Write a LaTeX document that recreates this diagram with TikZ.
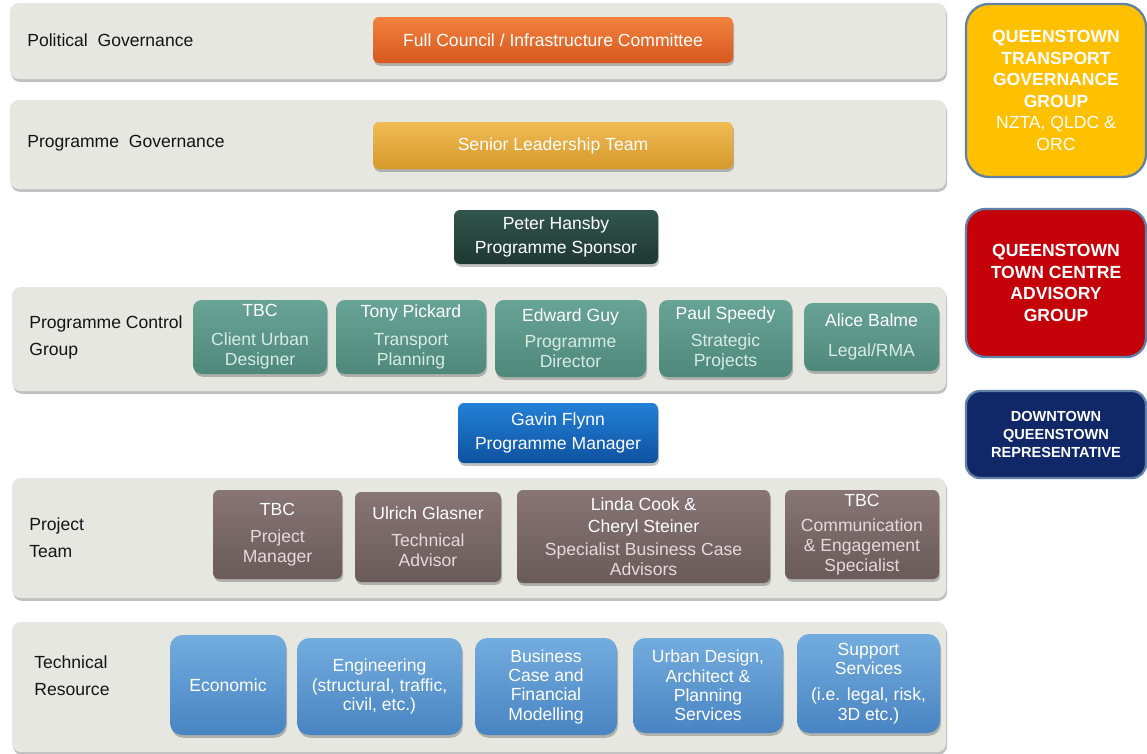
\documentclass[tikz,border=0pt]{standalone}
\usepackage{fontspec}
\setmainfont{Liberation Sans}
\usetikzlibrary{shadows}
\definecolor{bandc}{RGB}{231,231,225}
\definecolor{orangeT}{RGB}{242,130,62}
\definecolor{orangeB}{RGB}{214,88,30}
\definecolor{goldT}{RGB}{240,188,84}
\definecolor{goldB}{RGB}{214,152,42}
\definecolor{dgreenT}{RGB}{50,86,76}
\definecolor{dgreenB}{RGB}{30,56,48}
\definecolor{tealT}{RGB}{104,164,150}
\definecolor{tealB}{RGB}{78,136,122}
\definecolor{tealsub}{RGB}{215,235,228}
\definecolor{blueT}{RGB}{35,128,215}
\definecolor{blueB}{RGB}{14,82,160}
\definecolor{brownT}{RGB}{136,117,117}
\definecolor{brownB}{RGB}{106,90,90}
\definecolor{brownsub}{RGB}{228,218,218}
\definecolor{lblueT}{RGB}{115,172,222}
\definecolor{lblueB}{RGB}{72,132,194}
\definecolor{qyellow}{RGB}{255,192,0}
\definecolor{qred}{RGB}{196,0,8}
\definecolor{qnavy}{RGB}{16,40,104}
\definecolor{qborder}{RGB}{96,128,168}
\definecolor{labelc}{RGB}{20,20,20}
\newcommand\bx[7]{%
 \pgfmathsetmacro\cx{(#3+#5)/2}\pgfmathsetmacro\cy{(#4+#6)/2}%
 \pgfmathsetmacro\ww{(#5-#3)*0.02}\pgfmathsetmacro\hh{(#6-#4)*0.02}%
 \node[#2, minimum width=\ww cm, minimum height=\hh cm, inner sep=0pt] (#1) at (\cx,\cy) {#7};}
\tikzset{
  shd/.style={drop shadow={shadow xshift=0.6pt, shadow yshift=-1.6pt, opacity=0.35, fill=black!70}},
  band/.style={fill=bandc, rounded corners=5pt, shd},
  lbl/.style={anchor=west, text=labelc, font=\fontsize{10}{15.3}\selectfont, align=left, inner sep=0pt},
  cbox/.style={rounded corners=3.5pt, shd, text=white, align=center, font=\fontsize{10}{11.4}\selectfont},
  orangebox/.style={cbox, top color=orangeT, bottom color=orangeB},
  goldbox/.style={cbox, top color=goldT, bottom color=goldB},
  dgreenbox/.style={cbox, top color=dgreenT, bottom color=dgreenB},
  tealbox/.style={cbox, top color=tealT, bottom color=tealB, rounded corners=5pt},
  bluebox/.style={cbox, top color=blueT, bottom color=blueB},
  brownbox/.style={cbox, top color=brownT, bottom color=brownB},
  lbluebox/.style={cbox, top color=lblueT, bottom color=lblueB, rounded corners=7pt, font=\fontsize{10}{11}\selectfont},
  sidebox/.style={draw=qborder, line width=1.3pt, rounded corners=11pt, text=white, align=center, font=\bfseries\fontsize{10}{12.2}\selectfont},
}
\begin{document}
\begin{tikzpicture}[x=0.02cm, y=-0.02cm]
\useasboundingbox (0,0) rectangle (1147,754);
% bands
\bx{b1}{band}{10}{3}{946}{79}{}
\bx{b2}{band}{10}{100}{946}{189}{}
\bx{b3}{band}{12}{287}{946}{391}{}
\bx{b4}{band}{12}{478}{946}{598}{}
\bx{b5}{band}{12}{622}{946}{752}{}
% band labels
\node[lbl] (l1) at (27,40) {Political\ \ Governance};
\node[lbl] (l2) at (27,143) {Programme\ \ Governance};
\node[lbl] (l3) at (29,337.5) {Programme Control\\Group};
\node[lbl] (l4) at (29,537.5) {Project\\Team};
\node[lbl] (l5) at (34,675.5) {Technical\\Resource};
% governance
\bx{fc}{orangebox}{373}{17}{733}{63}{Full Council / Infrastructure Committee}
\bx{slt}{goldbox}{373}{122}{733}{169}{Senior Leadership Team}
\bx{ph}{dgreenbox}{454}{210}{658}{264}{Peter Hansby\\[2pt]Programme Sponsor}
% programme control group
\bx{pc1}{tealbox}{193}{300}{327}{374}{TBC\\[5pt]{\color{tealsub}Client Urban}\\{\color{tealsub}Designer}}
\bx{pc2}{tealbox}{336}{300}{486}{374}{Tony Pickard\\[5pt]{\color{tealsub}Transport}\\{\color{tealsub}Planning}}
\bx{pc3}{tealbox}{495}{300}{646}{377}{Edward Guy\\[3.5pt]{\color{tealsub}Programme}\\{\color{tealsub}Director}}
\bx{pc4}{tealbox}{659}{300}{792}{377}{Paul Speedy\\[3.5pt]{\color{tealsub}Strategic}\\{\color{tealsub}Projects}}
\bx{pc5}{tealbox}{804}{303}{939}{371}{Alice Balme\\[6pt]{\color{tealsub}Legal/RMA}}
\bx{gf}{bluebox}{458}{403}{658}{463}{Gavin Flynn\\[2pt]Programme Manager}
% project team
\bx{pt1}{brownbox}{213}{490}{342}{579}{TBC\\[4pt]{\color{brownsub}Project}\\{\color{brownsub}Manager}}
\bx{pt2}{brownbox}{355}{492}{501}{582}{Ulrich Glasner\\[4pt]{\color{brownsub}Technical}\\{\color{brownsub}Advisor}}
\bx{pt3}{brownbox}{517}{490}{770}{583}{Linda Cook \&\\[1.5pt]Cheryl Steiner\\[1.5pt]{\color{brownsub}Specialist Business Case}\\{\color{brownsub}Advisors}}
\bx{pt4}{brownbox}{785}{490}{939}{579}{TBC\\[3pt]{\color{brownsub}Communication}\\{\color{brownsub}\& Engagement}\\{\color{brownsub}Specialist}}
% technical resource
\bx{tr1}{lbluebox}{170}{635}{286}{735}{Economic}
\bx{tr2}{lbluebox}{297}{638}{462}{735}{Engineering\\(structural, traffic,\\civil, etc.)}
\bx{tr3}{lbluebox}{475}{638}{617}{735}{Business\\Case and\\Financial\\Modelling}
\bx{tr4}{lbluebox}{633}{638}{783}{733}{Urban Design,\\Architect \&\\Planning\\Services}
\bx{tr5}{lbluebox}{797}{634}{940}{733}{Support\\Services\\[4pt](i.e. legal, risk,\\3D etc.)}
% side boxes
\bx{qt}{sidebox, fill=qyellow, rounded corners=13pt}{966}{4}{1146}{177}{QUEENSTOWN\\TRANSPORT\\GOVERNANCE\\GROUP\\{\mdseries NZTA, QLDC \&}\\{\mdseries ORC}}
\bx{qa}{sidebox, fill=qred}{966}{209}{1146}{357}{QUEENSTOWN\\TOWN CENTRE\\ADVISORY\\GROUP}
\bx{dq}{sidebox, fill=qnavy, rounded corners=8pt, font=\bfseries\fontsize{8.3}{10}\selectfont}{966}{391}{1146}{478}{DOWNTOWN\\QUEENSTOWN\\REPRESENTATIVE}
\end{tikzpicture}
\end{document}
